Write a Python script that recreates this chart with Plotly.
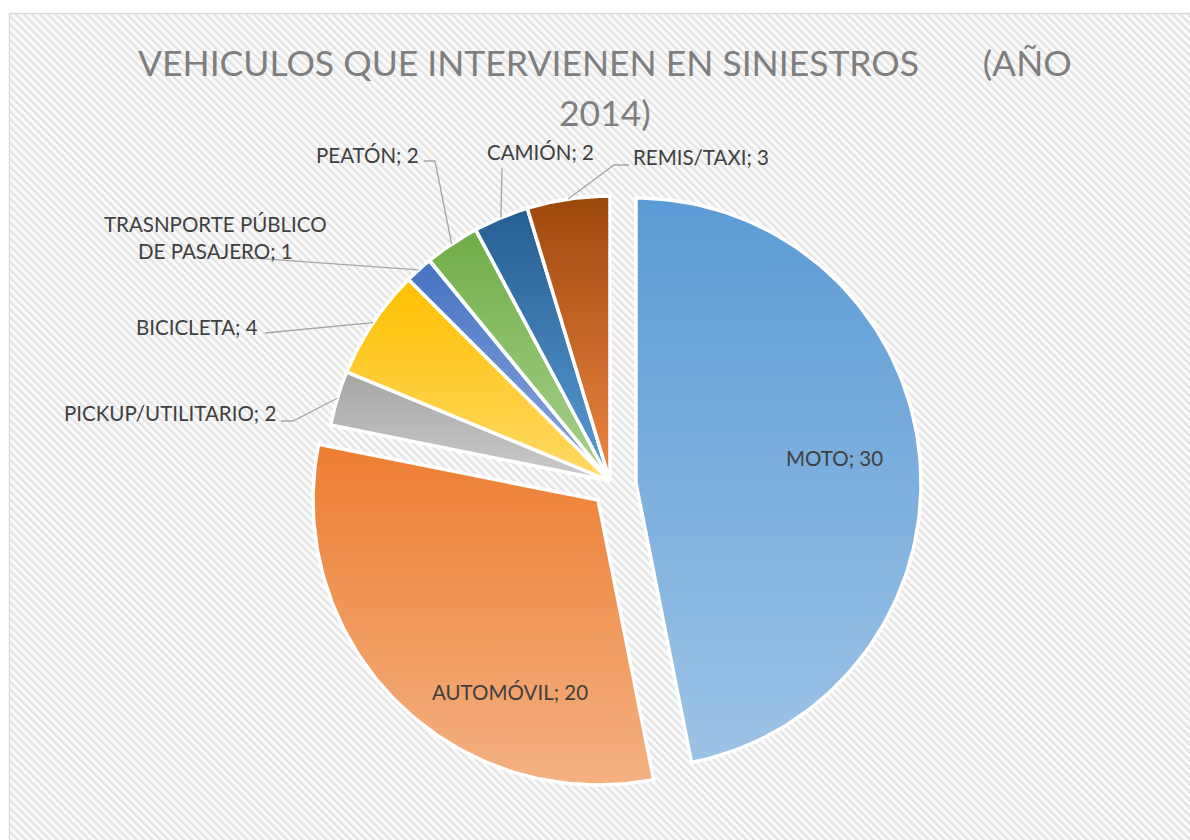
import base64
import numpy as np
import plotly.graph_objects as go

# ---------------- data ----------------
categories = ["MOTO", "AUTOMÓVIL", "PICKUP/UTILITARIO", "BICICLETA",
              "TRASNPORTE PÚBLICO DE PASAJERO", "PEATÓN", "CAMIÓN", "REMIS/TAXI"]
values = [30, 20, 2, 4, 1, 2, 2, 3]
title_line1 = "VEHICULOS QUE INTERVIENEN EN SINIESTROS\u00a0\u00a0\u00a0\u00a0\u00a0\u00a0\u00a0(AÑO"
title_line2 = "2014)"

# ---------------- style ----------------
W, H = 1190, 840
CX, CY, R = 610, 481, 285            # pie centre / radius (px)
explode_offset = {"MOTO": (26, 2), "AUTOMÓVIL": (-12, 19)}   # px shift of exploded slices
top_colors = ["#5B9BD5", "#ED7D31", "#A5A5A5", "#FFC000",
              "#4472C4", "#70AD47", "#255E91", "#9E480E"]
bottom_colors = ["#9DC3E6", "#F4B183", "#CBCBCB", "#FFD966",
                 "#8FAADC", "#A9D18E", "#5B9BD5", "#EE8642"]
label_wrap = {"TRASNPORTE PÚBLICO DE PASAJERO": "TRASNPORTE PÚBLICO<br>DE PASAJERO"}
label_pos = {
    "MOTO": (834, 458, "center"),
    "AUTOMÓVIL": (510, 692, "center"),
    "PICKUP/UTILITARIO": (278, 413, "right"),
    "BICICLETA": (260, 327, "right"),
    "TRASNPORTE PÚBLICO DE PASAJERO": (215, 237, "center"),
    "PEATÓN": (421, 155, "right"),
    "CAMIÓN": (540, 152, "center"),
    "REMIS/TAXI": (631, 157, "left"),
}
leader_pts = {
    "REMIS/TAXI": [(614, 165), (629, 165)],
    "CAMIÓN": [(502, 168)],
    "PEATÓN": [(435, 161), (424, 161)],
    "TRASNPORTE PÚBLICO DE PASAJERO": [(238, 257)],
    "BICICLETA": [(265, 333)],
    "PICKUP/UTILITARIO": [(293, 421), (281, 421)],
}
LABEL_FONT = dict(family="Lato, 'Open Sans', sans-serif", size=20.5, color="#404040")
TITLE_FONT = dict(family="Lato, 'Open Sans', sans-serif", size=35.5, color="#7F7F7F")

fig = go.Figure()

total = float(sum(values))
start = 0.0
for i, (cat, val) in enumerate(zip(categories, values)):
    a0 = 360.0 * start / total
    a1 = 360.0 * (start + val) / total
    start += val
    mid = np.radians((a0 + a1) / 2)
    dx, dy = explode_offset.get(cat, (0, 0))
    ax = CX + dx
    ay = CY + dy
    th = np.radians(np.linspace(a0, a1, 120))
    xs = np.concatenate([[ax], ax + R * np.sin(th), [ax]])
    ys = np.concatenate([[ay], ay - R * np.cos(th), [ay]])
    fig.add_trace(go.Scatter(
        x=xs, y=ys, mode="lines", fill="toself",
        line=dict(color="white", width=3.5),
        fillgradient=dict(type="vertical",
                          colorscale=[[0, bottom_colors[i]], [1, top_colors[i]]]),
        hoverinfo="skip", showlegend=False, name=cat))

    # leader line
    if cat in leader_pts:
        px = [ax + R * np.sin(mid)] + [p[0] for p in leader_pts[cat]]
        py = [ay - R * np.cos(mid)] + [p[1] for p in leader_pts[cat]]
        fig.add_trace(go.Scatter(x=px, y=py, mode="lines",
                                 line=dict(color="#A6A6A6", width=1.3),
                                 hoverinfo="skip", showlegend=False))

    lx, ly, anc = label_pos[cat]
    fig.add_annotation(x=lx, y=ly, xref="x", yref="y", xanchor=anc, yanchor="middle",
                       text=f"{label_wrap.get(cat, cat)}; {val}", showarrow=False,
                       font=LABEL_FONT, align="center")

# title (two lines)
fig.add_annotation(x=605, y=62, xref="x", yref="y", xanchor="center", yanchor="middle",
                   text=title_line1, showarrow=False, font=TITLE_FONT)
fig.add_annotation(x=605, y=112, xref="x", yref="y", xanchor="center", yanchor="middle",
                   text=title_line2, showarrow=False, font=TITLE_FONT)

# hatched chart-area background with border
svg = (f'<svg xmlns="http://www.w3.org/2000/svg" width="{W}" height="{H}">'
       '<defs><pattern id="p" width="5.6" height="5.6" patternUnits="userSpaceOnUse" '
       'patternTransform="rotate(-45)">'
       '<rect width="5.6" height="5.6" fill="#FBFBFB"/><rect width="2.4" height="5.6" fill="#E4E4E4"/>'
       '</pattern></defs>'
       '<rect x="0" y="0" width="100%" height="100%" fill="#FFFFFF"/>'
       '<rect x="9.5" y="13.5" width="1300" height="1000" fill="url(#p)" stroke="#D9D9D9" stroke-width="1.5"/>'
       '</svg>')
src = "data:image/svg+xml;base64," + base64.b64encode(svg.encode()).decode()
fig.add_layout_image(dict(source=src, xref="paper", yref="paper", x=0, y=1,
                          sizex=1, sizey=1, xanchor="left", yanchor="top",
                          sizing="stretch", layer="below"))

fig.update_layout(
    width=W, height=H, margin=dict(l=0, r=0, t=0, b=0),
    paper_bgcolor="white", plot_bgcolor="rgba(0,0,0,0)",
    xaxis=dict(range=[0, W], visible=False, fixedrange=True),
    yaxis=dict(range=[H, 0], visible=False, fixedrange=True),
    showlegend=False,
)

fig.write_html("out.html", config={"displayModeBar": False},
               post_script="document.body.style.margin='0';document.body.style.overflow='hidden';")
